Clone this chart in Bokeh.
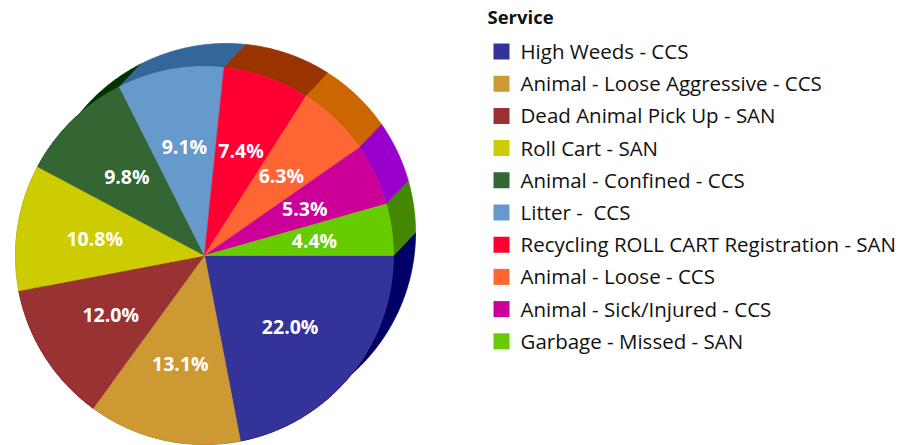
import numpy as np
from bokeh.plotting import figure
from bokeh.models import Range1d, ColumnDataSource
from bokeh.core.properties import value
from bokeh.embed import file_html
from bokeh.resources import INLINE

# ---- data ----
services = [
    "High Weeds - CCS",
    "Animal - Loose Aggressive - CCS",
    "Dead Animal Pick Up - SAN",
    "Roll Cart - SAN",
    "Animal - Confined - CCS",
    "Litter -  CCS",
    "Recycling ROLL CART Registration - SAN",
    "Animal - Loose - CCS",
    "Animal - Sick/Injured - CCS",
    "Garbage - Missed - SAN",
]
percents = [22.0, 13.1, 12.0, 10.8, 9.8, 9.1, 7.4, 6.3, 5.3, 4.4]
face_colors = ["#333399", "#CC9933", "#993333", "#CCCC00", "#336633",
               "#6699CC", "#FF0033", "#FF6633", "#CC0099", "#66CC00"]
side_colors = ["#000066", "#996600", "#660000", "#999900", "#003300",
               "#336699", "#993300", "#CC6600", "#9900CC", "#448800"]
legend_title = "Service"

# ---- layout (page px, y measured from top then flipped) ----
W, H = 900, 445
FONT = "Open Sans"
cx, cy = 204.0, H - 255.0    # pie centre
R = 189.0                    # pie radius
dx, dy = 22.0, 23.0          # extrusion offset (up-right)
label_r = 111.0

p = figure(width=W, height=H, x_range=Range1d(0, W), y_range=Range1d(0, H),
           output_backend="svg", toolbar_location=None, min_border=0)
p.axis.visible = False
p.grid.visible = False
p.outline_line_color = None
p.background_fill_color = "white"
p.border_fill_color = "white"

vals = np.array(percents, dtype=float)
frac = vals / vals.sum()
ends = -np.cumsum(frac) * 2 * np.pi
starts = np.concatenate([[0.0], ends[:-1]])   # clockwise from 3 o'clock

# side (extruded rim) strips
xs, ys = [], []
for a0, a1 in zip(starts, ends):
    t = np.linspace(a0, a1, 80)
    fx = cx + R * np.cos(t)
    fy = cy + R * np.sin(t)
    bx = (cx + dx + R * np.cos(t))[::-1]
    by = (cy + dy + R * np.sin(t))[::-1]
    xs.append(np.concatenate([fx, bx]).tolist())
    ys.append(np.concatenate([fy, by]).tolist())
p.patches(xs=xs, ys=ys, fill_color=side_colors, line_color=side_colors, line_width=0.8)

# front faces
src = ColumnDataSource(dict(start=ends, end=starts, color=face_colors))
p.wedge(x=cx, y=cy, radius=R, start_angle="start", end_angle="end",
        direction="anticlock", fill_color="color", line_color="color",
        line_width=0.6, source=src)

# percentage labels
mids = (starts + ends) / 2
lab = ColumnDataSource(dict(
    x=cx + label_r * np.cos(mids),
    y=cy + label_r * np.sin(mids),
    t=[f"{v:.1f}%" for v in percents]))
p.text(x="x", y="y", text="t", source=lab, text_color="white",
       text_font=value(FONT), text_font_size="19.5px", text_font_style="bold",
       text_align="center", text_baseline="middle")

# legend
n = len(services)
step = 32.2
ly_sq = H - (51.0 + np.arange(n) * step)
ly_tx = H - (50.5 + np.arange(n) * step)
p.rect(x=501, y=ly_sq, width=16, height=16, fill_color=face_colors, line_color=None)
p.text(x=520, y=ly_tx, text=[s.replace("  ", " \u00a0") for s in services],
       text_color="#111111", text_font=value(FONT), text_font_size="20.5px",
       text_align="left", text_baseline="middle")
p.text(x=[487], y=[H - 15.5], text=[legend_title], text_color="#111111",
       text_font=value(FONT), text_font_size="18.5px", text_font_style="bold",
       text_align="left", text_baseline="middle")

open("out.html", "w").write(file_html(p, INLINE))
